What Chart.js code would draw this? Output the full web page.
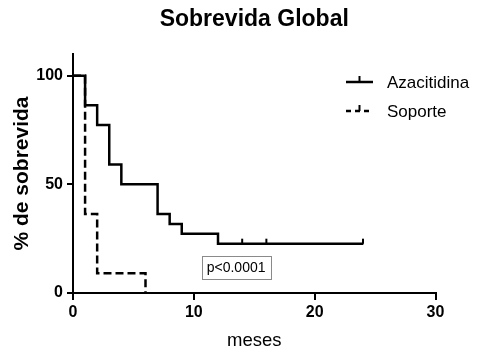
<!DOCTYPE html>
<html>
<head>
<meta charset="utf-8">
<script src="https://cdn.jsdelivr.net/npm/chart.js@4/dist/chart.umd.min.js"></script>
<style>
  html, body { margin: 0; padding: 0; background: #fff; }
  #wrap { width: 490px; height: 356px; }
</style>
</head>
<body>
<div id="wrap"><canvas id="c" width="490" height="356"></canvas></div>
<script>
// ---- Data ----
const chartTitle = 'Sobrevida Global';
const xTitle = 'meses';
const yTitle = '% de sobrevida';
const seriesNames = ['Azacitidina', 'Soporte'];
const azaTimes = [0, 1, 2, 3, 4, 7, 8, 9, 12, 24];
const azaSurv  = [100, 86.4, 77.3, 59.1, 50, 36.4, 31.8, 27.3, 22.7, 22.7];
const azaCensorTimes = [14, 16, 24];
const azaCensorSurv  = [22.7, 22.7, 22.7];
const sopTimes = [0, 1, 2, 6];
const sopSurv  = [100, 36.4, 9.1, 0];
const xTicks = [0, 10, 20, 30];
const yTicks = [0, 50, 100];
const pValueText = 'p<0.0001';
const pValueAnchor = { x: 13.5, y: 11.9 };

const toPts = (xs, ys) => xs.map((x, i) => ({ x: x, y: ys[i] }));

// censor tick marker (vertical mark drawn above the line)
const censorMark = document.createElement('canvas');
censorMark.width = 4; censorMark.height = 12;
(function () {
  const g = censorMark.getContext('2d');
  g.strokeStyle = '#000'; g.lineWidth = 2;
  g.beginPath(); g.moveTo(2, 1); g.lineTo(2, 6.5); g.stroke();
})();

const FONT = 'Arial, "Liberation Sans", Helvetica, sans-serif';

const overlay = {
  id: 'overlay',
  afterDraw(chart) {
    const ctx = chart.ctx;
    const xs = chart.scales.x, ys = chart.scales.y;
    ctx.save();
    // p-value box
    const cx = xs.getPixelForValue(pValueAnchor.x);
    const cy = ys.getPixelForValue(pValueAnchor.y);
    ctx.font = '14px ' + FONT;
    const tw = ctx.measureText(pValueText).width;
    const bw = tw + 10, bh = 23;
    ctx.fillStyle = '#fff';
    ctx.fillRect(cx - bw / 2, cy - bh / 2, bw, bh);
    ctx.strokeStyle = '#8a8a8a'; ctx.lineWidth = 1;
    ctx.strokeRect(Math.round(cx - bw / 2) + 0.5, Math.round(cy - bh / 2) + 0.5, Math.round(bw), Math.round(bh));
    ctx.fillStyle = '#000'; ctx.textAlign = 'center'; ctx.textBaseline = 'middle';
    ctx.fillText(pValueText, cx, cy + 1);

    // legend
    const items = [
      { name: seriesNames[0], dash: [], y: 82 },
      { name: seriesNames[1], dash: [5, 4], y: 111 }
    ];
    items.forEach(it => {
      ctx.strokeStyle = '#000'; ctx.lineWidth = 2.5;
      ctx.setLineDash(it.dash);
      ctx.beginPath(); ctx.moveTo(346, it.y); ctx.lineTo(373, it.y); ctx.stroke();
      ctx.setLineDash([]);
      ctx.lineWidth = 2;
      ctx.beginPath(); ctx.moveTo(359.5, it.y); ctx.lineTo(359.5, it.y - 6); ctx.stroke();
      ctx.font = '17px ' + FONT; ctx.fillStyle = '#000';
      ctx.textAlign = 'left'; ctx.textBaseline = 'middle';
      ctx.fillText(it.name, 387, it.y + 1);
    });
    ctx.restore();
  }
};

new Chart(document.getElementById('c'), {
  type: 'line',
  data: {
    datasets: [
      {
        label: seriesNames[0],
        data: toPts(azaTimes, azaSurv),
        stepped: true,
        borderColor: '#000',
        borderWidth: 2.5,
        pointRadius: 0,
        fill: false
      },
      {
        label: seriesNames[1],
        data: toPts(sopTimes, sopSurv),
        stepped: true,
        borderColor: '#000',
        borderWidth: 2.5,
        borderDash: [8, 4],
        pointRadius: 0,
        fill: false
      },
      {
        label: seriesNames[0] + ' censurado',
        data: toPts(azaCensorTimes, azaCensorSurv),
        showLine: false,
        pointStyle: censorMark,
        pointRadius: 6,
        borderColor: '#000'
      }
    ]
  },
  options: {
    responsive: false,
    animation: false,
    layout: { padding: { left: 0, right: 54.5, top: 0, bottom: 0 } },
    plugins: {
      legend: { display: false },
      tooltip: { enabled: false },
      title: {
        display: true,
        text: chartTitle,
        fullSize: false,
        color: '#000',
        font: { family: FONT, size: 23, weight: 'bold' },
        padding: { top: 6, bottom: 20.4 }
      }
    },
    scales: {
      x: {
        type: 'linear',
        min: 0, max: 30,
        afterBuildTicks: s => { s.ticks = xTicks.map(v => ({ value: v })); },
        afterFit: s => { s.height = 63; },
        border: { display: true, color: '#000', width: 2 },
        grid: { display: true, drawOnChartArea: false, drawTicks: true, tickLength: 7, color: '#000', lineWidth: 2 },
        ticks: { color: '#000', font: { family: FONT, size: 16, weight: 'bold' }, padding: 3, maxRotation: 0 },
        title: { display: true, text: xTitle, color: '#000', font: { family: FONT, size: 18.5 }, padding: { top: 0, bottom: 4 } }
      },
      y: {
        type: 'linear',
        min: 0, max: 110,
        afterBuildTicks: s => { s.ticks = yTicks.map(v => ({ value: v })); },
        afterFit: s => { s.width = 73; },
        border: { display: true, color: '#000', width: 2 },
        grid: { display: true, drawOnChartArea: false, drawTicks: true, tickLength: 6, color: '#000', lineWidth: 2 },
        ticks: { color: '#000', font: { family: FONT, size: 16, weight: 'bold' }, padding: 4 },
        title: { display: true, text: yTitle, color: '#000', font: { family: FONT, size: 21, weight: 'bold' }, padding: { top: 10, bottom: 0 } }
      }
    }
  },
  plugins: [overlay]
});
</script>
</body>
</html>
